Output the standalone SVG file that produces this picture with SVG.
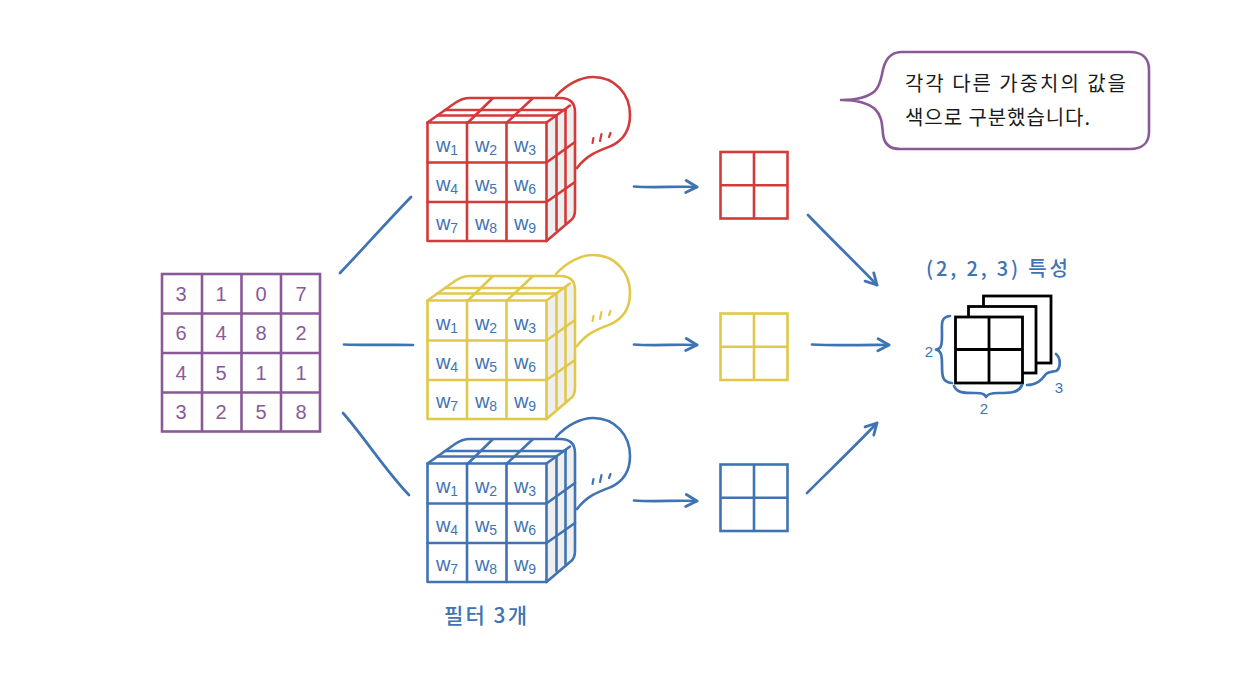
<svg xmlns="http://www.w3.org/2000/svg" xmlns:xlink="http://www.w3.org/1999/xlink" width="1240" height="699" viewBox="0 0 1240 699">
<style>
.ko{font-family:"Noto Sans CJK KR","Noto Sans",sans-serif}
.num{font-family:"Liberation Sans",Arial,sans-serif;font-size:20px;fill:#8a5a98;text-anchor:middle}
.w{font-family:"Liberation Sans",Arial,sans-serif;font-size:20px;fill:#3f73b3;text-anchor:middle}
.w tspan{font-size:14px}
.ln{fill:none;stroke:#3f73b3;stroke-width:2.7;stroke-linecap:round;stroke-linejoin:round}
.dim{font-family:"Liberation Sans",Arial,sans-serif;font-size:15px;fill:#3f73b3;text-anchor:middle}
.grid{fill:#fff;stroke-width:2.6}
.blk{fill:#fff;stroke:#000;stroke-width:2.8}
</style>
<defs>
<marker id="ah" markerUnits="userSpaceOnUse" markerWidth="18" markerHeight="18" refX="13" refY="8" orient="auto">
<path d="M2 2L13 8L2 14" fill="none" stroke="#3f73b3" stroke-width="2.800" stroke-linejoin="round" stroke-linecap="round"/>
</marker>
<g id="cube" fill="none" stroke="currentColor" stroke-width="2.600" stroke-linejoin="round" stroke-linecap="round">
<path d="M556 96C566 85 580 77 593 77C615 77 630 94 630 115C630 130 624 140 611 146C598 151 587 155 577 168"/>
<path d="M592.500 143L593.500 138M600 141L601.500 134M609 137L610.500 133" stroke-width="2.200"/>
<path d="M546.500 122.500L565 108L568 104Q575 108 575 118V210Q575 218 570 222L546.500 241Z" fill="#efefef" stroke="none"/>
<path d="M427.500 122.500L455 103Q462 98 470 98H560Q575 98 575 112V210Q575 218 570 221L546.500 241"/>
<path d="M445 110H565.500M437.500 115.500H556.500"/>
<path d="M468 122.500L492.500 98.500M507 122.500L532.500 98.500"/>
<path d="M556.500 115.500V230M565.500 109V223"/>
<path d="M546.500 122.500L570 105.500M546.500 162.500L575 142M546.500 202L575 182"/>
<rect x="427.500" y="122.500" width="119" height="118.500"/>
<path d="M467 122.500V241M506.500 122.500V241M427.500 162.500H546.500M427.500 202H546.500"/>
</g>
<g id="small" class="grid" stroke="currentColor">
<rect x="720.500" y="0" width="67" height="66.500" fill="#fff"/>
<path d="M754 0V66.500M720.500 33.200H787.500" fill="none"/>
</g>
</defs>
<rect width="1240" height="699" fill="#fff"/>

<g id="connectors">
<path class="ln" d="M340 273C362 250 385 224 411 197"/>
<path class="ln" d="M344 344.500C366 345.500 390 344.500 413 345"/>
<path class="ln" d="M343 413C365 438 385 470 409 495"/>
<path class="ln" marker-end="url(#ah)" d="M634 186.500C655 188 677 186 697 187"/>
<path class="ln" marker-end="url(#ah)" d="M634 344.500C655 346 677 344 697 345"/>
<path class="ln" marker-end="url(#ah)" d="M634 500.500C655 502 677 500 697 501"/>
<path class="ln" marker-end="url(#ah)" d="M808 215C830 238 855 262 877 285"/>
<path class="ln" marker-end="url(#ah)" d="M812 344.500C838 346 864 344.500 889 345"/>
<path class="ln" marker-end="url(#ah)" d="M807 493C830 470 855 446 877 423"/>
</g>

<g id="input-matrix">
<g fill="none" stroke="#8a5a98" stroke-width="2.600">
<rect x="162" y="274" width="158" height="157.500"/>
<path d="M202 274V431.500M241.500 274V431.500M281 274V431.500M162 313.500H320M162 353H320M162 392.500H320"/>
</g>
<text class="num" x="181" y="301">3</text><text class="num" x="221" y="301">1</text><text class="num" x="261" y="301">0</text><text class="num" x="301" y="301">7</text>
<text class="num" x="181" y="340">6</text><text class="num" x="221" y="340">4</text><text class="num" x="261" y="340">8</text><text class="num" x="301" y="340">2</text>
<text class="num" x="181" y="380">4</text><text class="num" x="221" y="380">5</text><text class="num" x="261" y="380">1</text><text class="num" x="301" y="380">1</text>
<text class="num" x="181" y="419">3</text><text class="num" x="221" y="419">2</text><text class="num" x="261" y="419">5</text><text class="num" x="301" y="419">8</text>
</g>

<g id="filter-red">
<use xlink:href="#cube" href="#cube" style="color:#d33a3a"/>
<text class="w" x="447" y="152">w<tspan dy="2.500">1</tspan></text><text class="w" x="486" y="152">w<tspan dy="2.500">2</tspan></text><text class="w" x="525" y="152">w<tspan dy="2.500">3</tspan></text>
<text class="w" x="447" y="191">w<tspan dy="2.500">4</tspan></text><text class="w" x="486" y="191">w<tspan dy="2.500">5</tspan></text><text class="w" x="525" y="191">w<tspan dy="2.500">6</tspan></text>
<text class="w" x="447" y="230">w<tspan dy="2.500">7</tspan></text><text class="w" x="486" y="230">w<tspan dy="2.500">8</tspan></text><text class="w" x="525" y="230">w<tspan dy="2.500">9</tspan></text>
</g>
<g id="filter-yellow">
<use xlink:href="#cube" href="#cube" y="178" style="color:#e0c94a"/>
<text class="w" x="447" y="330">w<tspan dy="2.500">1</tspan></text><text class="w" x="486" y="330">w<tspan dy="2.500">2</tspan></text><text class="w" x="525" y="330">w<tspan dy="2.500">3</tspan></text>
<text class="w" x="447" y="369">w<tspan dy="2.500">4</tspan></text><text class="w" x="486" y="369">w<tspan dy="2.500">5</tspan></text><text class="w" x="525" y="369">w<tspan dy="2.500">6</tspan></text>
<text class="w" x="447" y="408">w<tspan dy="2.500">7</tspan></text><text class="w" x="486" y="408">w<tspan dy="2.500">8</tspan></text><text class="w" x="525" y="408">w<tspan dy="2.500">9</tspan></text>
</g>
<g id="filter-blue">
<use xlink:href="#cube" href="#cube" y="341" style="color:#3f73b3"/>
<text class="w" x="447" y="493">w<tspan dy="2.500">1</tspan></text><text class="w" x="486" y="493">w<tspan dy="2.500">2</tspan></text><text class="w" x="525" y="493">w<tspan dy="2.500">3</tspan></text>
<text class="w" x="447" y="532">w<tspan dy="2.500">4</tspan></text><text class="w" x="486" y="532">w<tspan dy="2.500">5</tspan></text><text class="w" x="525" y="532">w<tspan dy="2.500">6</tspan></text>
<text class="w" x="447" y="571">w<tspan dy="2.500">7</tspan></text><text class="w" x="486" y="571">w<tspan dy="2.500">8</tspan></text><text class="w" x="525" y="571">w<tspan dy="2.500">9</tspan></text>
</g>
<g id="filter-label">
<text class="ko" x="444" y="623" font-size="21" fill="#3f73b3" font-weight="500" textLength="83">필터 3개</text>
</g>

<g id="output-red"><use xlink:href="#small" href="#small" y="152" style="color:#d33a3a"/></g>
<g id="output-yellow"><use xlink:href="#small" href="#small" y="313.500" style="color:#e0c94a"/></g>
<g id="output-blue"><use xlink:href="#small" href="#small" y="464.500" style="color:#3f73b3"/></g>

<g id="feature-map">
<text class="ko" x="926" y="276" font-size="20" fill="#3f73b3" font-weight="500" textLength="142">(2, 2, 3) 특성</text>
<rect class="blk" x="983.500" y="296" width="67.500" height="67"/>
<rect class="blk" x="968.500" y="306.500" width="67.500" height="66.500"/>
<rect class="blk" x="955.500" y="317" width="67" height="66"/>
<path d="M989 317V383M955.500 349.500H1022.500" fill="none" stroke="#000" stroke-width="2.800"/>
<path class="ln" d="M950 316C940 317 942 325 942 335C942 346 941 349 936 349.500C941 351 942 354 942 365C942 376 942 382 952 383"/>
<path class="ln" d="M954 386C957 393 964 393 975 393C984 393 985 395 986 397C987 395 989 393 998 393C1010 393 1019 393 1022 385"/>
<path class="ln" d="M1027 385C1036 385 1041 381 1046 374C1049 371 1052 372 1056 371C1061 368 1061 358 1056 354"/>
<text class="dim" x="929" y="357">2</text>
<text class="dim" x="984" y="414">2</text>
<text class="dim" x="1059" y="393">3</text>
</g>

<g id="callout">
<path d="M841 100C852 100 866 99 875 91C882 83 881 75 884 66C887 57 892 52 902 52H1130C1142 52 1149 58 1149 70V132C1149 143 1142 149 1130 149H900C890 149 884 144 883 134C882 124 882 116 875 109C867 102 852 100 841 100Z" fill="#fff" stroke="#8a5a98" stroke-width="2.600" stroke-linejoin="round"/>
<text class="ko" x="905" y="91" font-size="20" fill="#1a1a1a" textLength="221">각각 다른 가중치의 값을</text>
<text class="ko" x="905" y="125" font-size="20" fill="#1a1a1a" textLength="185">색으로 구분했습니다.</text>
</g>
</svg>
